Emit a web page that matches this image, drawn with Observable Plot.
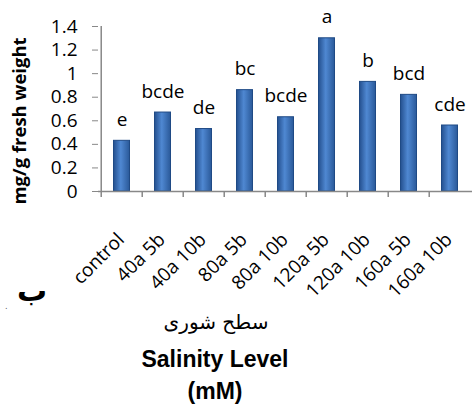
<!DOCTYPE html>
<html><head><meta charset="utf-8">
<script src="https://cdn.jsdelivr.net/npm/d3@7"></script>
<script src="https://cdn.jsdelivr.net/npm/@observablehq/plot@0.6"></script>
<style>
body{margin:0;background:#fff;}
#wrap{position:relative;width:472px;height:406px;overflow:hidden;background:#fff;}
#wrap svg{position:absolute;left:0;top:0;overflow:visible;}
.t{position:absolute;white-space:nowrap;color:#000;}
</style></head>
<body><div id="wrap"></div>
<script>
const categories = ["control","40a 5b","40a 10b","80a 5b","80a 10b","120a 5b","120a 10b","160a 5b","160a 10b"];
const values = [0.43,0.67,0.53,0.86,0.63,1.30,0.93,0.82,0.56];
const letters = ["e","bcde","de","bc","bcde","a","b","bcd","cde"];
const yTicks = [0,0.2,0.4,0.6,0.8,1,1.2,1.4];
const yLabel = "mg/g fresh weight";

const data = categories.map((c,i)=>({cat:c,v:values[i],l:letters[i]}));
const W=472,H=310,mL=98,mR=0,mT=26,mB=119;
const bw=(W-mL-mR)/categories.length;
const font = "'Open Sans', Lato, sans-serif";

const plot = Plot.plot({
  width:W,height:H,marginLeft:mL,marginRight:mR,marginTop:mT,marginBottom:mB,
  style:{fontFamily:font,fontSize:"19px",color:"#000",background:"transparent"},
  x:{domain:categories,padding:0},
  y:{domain:[0,1.4]},
  marks:[
    Plot.barY(data,{x:"cat",y:"v",fill:"url(#bargrad)",stroke:"#1f4a85",strokeWidth:1,insetLeft:12.5,insetRight:12.5}),
    Plot.text(data,{x:"cat",y:"v",text:"l",dy:-21,fontSize:19,fill:"#000"}),
    Plot.ruleY([0],{stroke:"#888",strokeWidth:1.5}),
    Plot.ruleX([categories[0]],{y1:0,y2:1.4,dx:-bw/2,stroke:"#888",strokeWidth:1.5}),
    Plot.ruleX(categories,{y1:0,y2:-0.05,dx:-bw/2,stroke:"#888",strokeWidth:1.5}),
    Plot.axisY({ticks:yTicks,tickFormat:d=>String(+d.toFixed(1)),tickSize:6,tickPadding:15,stroke:"#888",fontSize:19,label:null}),
    Plot.axisX({tickSize:0,tickRotate:-45,tickPadding:38,dx:-1,dy:7,fontSize:19,label:null})
  ]
});
const wrap=document.getElementById("wrap");
wrap.appendChild(plot);
const svg=d3.select(plot);
const defs=svg.insert("defs",":first-child");
const g=defs.append("linearGradient").attr("id","bargrad").attr("x1","0").attr("x2","1").attr("y1","0").attr("y2","0");
g.append("stop").attr("offset","0%").attr("stop-color","#24508f");
g.append("stop").attr("offset","45%").attr("stop-color","#4f88d2");
g.append("stop").attr("offset","100%").attr("stop-color","#2a5999");

function addText(txt,css){const d=document.createElement("div");d.className="t";d.textContent=txt;Object.assign(d.style,css);wrap.appendChild(d);return d;}
addText(yLabel,{left:"18px",top:"121px",fontFamily:font,fontWeight:"bold",fontSize:"18.5px",transform:"translate(-50%,-50%) rotate(-90deg)"});
addText("ب",{left:"32px",top:"290px",fontFamily:"'DejaVu Sans'",fontWeight:"bold",fontSize:"30px",transform:"translate(-50%,-50%)"});
addText(".",{left:"5px",top:"302px",fontFamily:"'DejaVu Sans'",fontSize:"8px",color:"#555"});
addText("سطح شوری",{left:"216px",top:"322px",fontFamily:"'DejaVu Sans'",fontSize:"20px",transform:"translate(-50%,-50%)",direction:"rtl"});
addText("Salinity Level",{left:"215px",top:"359px",fontFamily:"'Liberation Sans',Arial,sans-serif",fontWeight:"bold",fontSize:"23px",transform:"translate(-50%,-50%)"});
addText("(mM)",{left:"215px",top:"391px",fontFamily:"'Liberation Sans',Arial,sans-serif",fontWeight:"bold",fontSize:"23px",transform:"translate(-50%,-50%)"});
</script></body></html>
